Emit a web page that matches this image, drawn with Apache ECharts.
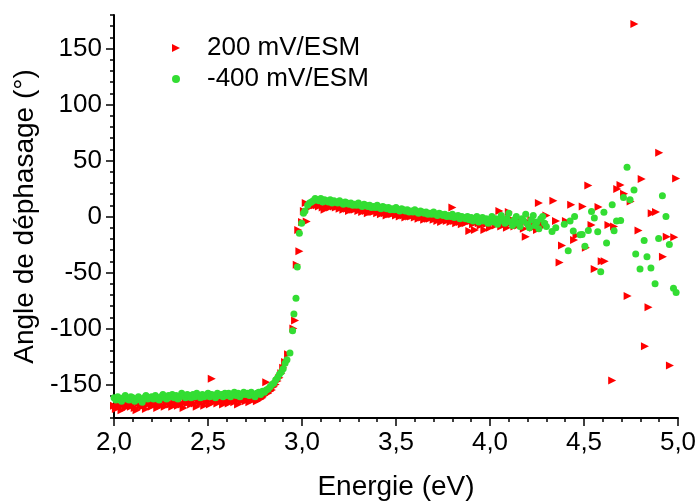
<!DOCTYPE html>
<html>
<head>
<meta charset="utf-8">
<script src="https://cdn.jsdelivr.net/npm/echarts@6/dist/echarts.min.js"></script>
<style>html,body{margin:0;padding:0;background:#fff;}#c{width:697px;height:502px;}</style>
</head>
<body>
<div id="c"></div>
<script>
const seriesNames = ['200 mV/ESM', '-400 mV/ESM'];
const xTickLabels = ['2,0','2,5','3,0','3,5','4,0','4,5','5,0'];
const xTickValues = [2.0,2.5,3.0,3.5,4.0,4.5,5.0];
const yTickValues = [-150,-100,-50,0,50,100,150];

// Dense region 1 (below the gap)
const energyDense1 = [
2.00,2.01,2.02,2.03,2.04,2.05,2.06,2.07,2.08,2.09,
2.10,2.11,2.12,2.13,2.14,2.15,2.16,2.17,2.18,2.19,
2.20,2.21,2.22,2.23,2.24,2.25,2.26,2.27,2.28,2.29,
2.30,2.31,2.32,2.33,2.34,2.35,2.36,2.37,2.38,2.39,
2.40,2.41,2.42,2.43,2.44,2.45,2.46,2.47,2.48,2.49,
2.50,2.51,2.52,2.53,2.54,2.55,2.56,2.57,2.58,2.59,
2.60,2.61,2.62,2.63,2.64,2.65,2.66,2.67,2.68,2.69,
2.70,2.71,2.72,2.73,2.74,2.75,2.76,2.77,2.78,2.79,
2.80,2.81,2.82,2.83,2.84,2.85,2.86,2.87,2.88];
const greenDense1 = [
-162,-164,-161,-163,-165,-162,-160,-163,-164,-161,
-162,-165,-163,-161,-164,-166,-162,-160,-163,-162,
-161,-163,-160,-162,-164,-161,-159,-162,-163,-160,
-161,-159,-162,-160,-163,-161,-158,-160,-162,-159,
-160,-162,-159,-161,-158,-160,-162,-159,-161,-160,
-158,-161,-159,-160,-162,-158,-160,-159,-161,-158,
-160,-158,-161,-159,-157,-160,-158,-161,-159,-157,
-159,-158,-160,-157,-159,-161,-158,-157,-159,-156,
-157,-155,-154,-152,-150,-149,-146,-144,-141];
const redDense1 = [
-169,-172,-168,-170,-173,-167,-171,-169,-166,-170,
-168,-171,-173,-167,-169,-170,-166,-172,-168,-167,
-170,-166,-168,-171,-167,-169,-165,-170,-167,-166,
-168,-170,-165,-167,-169,-166,-168,-171,-165,-167,
-166,-168,-164,-167,-170,-165,-167,-164,-169,-166,
-165,-168,-145,-166,-164,-167,-165,-163,-168,-166,
-164,-167,-165,-163,-166,-164,-168,-163,-165,-162,
-165,-163,-166,-162,-164,-163,-165,-161,-163,-162,
-160,-148,-158,-156,-155,-152,-150,-147,-144];

// Transition around 3 eV
const energyTransRed = [2.89,2.90,2.91,2.926,2.954,2.963,2.972,2.986,2.98,3.00,3.01,3.02,3.025,3.04,3.05,3.06,3.07];
const redTrans = [-140,-135,-130,-123,-100,-93,-43,-31,-12,-5,5,12,-4.5,8,10,11,10];
const energyTransGreen = [2.89,2.90,2.91,2.92,2.936,2.95,2.957,2.968,2.975,2.986,2.998,3.008,3.016,3.03,3.04,3.05,3.06,3.07];
const greenTrans = [-139,-136,-131,-128,-122,-102,-87,-73,-45,-15,-6,3,5,10,12,13,14,16];

// Dense region 2 (plateau)
const energyDense2 = [
3.08,3.09,3.10,3.11,3.12,3.13,3.14,3.15,3.16,3.17,
3.18,3.19,3.20,3.21,3.22,3.23,3.24,3.25,3.26,3.27,
3.28,3.29,3.30,3.31,3.32,3.33,3.34,3.35,3.36,3.37,
3.38,3.39,3.40,3.41,3.42,3.43,3.44,3.45,3.46,3.47,
3.48,3.49,3.50,3.51,3.52,3.53,3.54,3.55,3.56,3.57,
3.58,3.59,3.60,3.61,3.62,3.63,3.64,3.65,3.66,3.67,
3.68,3.69,3.70,3.71,3.72,3.73,3.74,3.75,3.76,3.77,
3.78,3.79,3.80,3.81,3.82,3.83,3.84,3.85,3.86,3.87,
3.88,3.89,3.90,3.91,3.92,3.93,3.94,3.95,3.96,3.97,
3.98,3.99,4.00,4.01,4.02,4.03,4.04,4.05,4.06,4.07,
4.08,4.09,4.10,4.11,4.12,4.13,4.14,4.15,4.16,4.17,
4.18,4.19,4.20,4.21,4.22,4.23,4.24,4.25,4.26,4.27,
4.28,4.29,4.30];
const greenDense2 = [
15,14,16,13,15,14,13,15,12,14,
13,12,14,12,11,13,12,11,12,10,
11,10,12,10,9,11,10,9,10,8,
9,8,10,8,7,9,8,7,8,6,
7,6,8,6,5,7,6,5,6,4,
5,4,6,4,3,5,4,3,4,2,
3,2,4,2,1,3,2,1,2,0,
1,0,2,-1,0,1,-2,0,-1,-2,
0,-3,-1,-4,-2,0,-5,-3,-1,-4,
-2,-6,-3,0,-5,-2,-7,-4,1,-3,
-6,-2,3,-5,-8,-3,0,-6,-9,-2,
-4,2,-7,-10,-3,1,-8,-5,-11,-2,
0,-6,-9];
const redDense2 = [
10,9,11,8,6,10,9,8,10,9,
8,9,7,8,6,8,7,5,7,6,
6,7,5,6,4,6,5,3,5,4,
4,5,3,4,2,4,3,1,3,2,
2,3,1,2,0,2,1,-1,1,0,
0,1,-1,0,-2,0,-1,-3,-1,-2,
-2,-1,-3,-2,-4,-2,-5,-3,-2,-4,
-3,-5,8,-4,-6,-3,-5,-7,-4,-6,
-5,-13,-4,-7,-12,-3,-6,-8,-5,-12,
-7,-4,-10,-6,-3,-8,-5,5,-9,-4,
-7,-10,4,-6,-3,-9,-5,-8,-4,-6,
-11,-18,-5,-8,-3,-10,-7,-12,12,-6,
-9,-5,1];

// Sparse, noisy region
const energySparseRed = [4.337,4.351,4.37,4.383,4.404,4.432,4.447,4.46,4.493,4.51,4.523,4.54,4.557,4.577,4.594,4.61,4.63,4.65,4.66,4.677,4.694,4.713,4.732,4.748,4.768,4.79,4.807,4.824,4.843,4.86,4.883,4.90,4.92,4.94,4.957,4.98,4.99];
const redSparse = [14,-4,-41,-26,-4,10.5,-21,-17,9,-28,27.6,-7.5,-47,8.4,-40,-40,-7.5,-146.6,-9,24.6,28.2,20.4,-71,13.5,172,-12.6,33.6,-116,-81,3,4,57,-36,-18,-133,-18.5,34];
const energySparseGreen = [4.33,4.35,4.395,4.416,4.426,4.443,4.45,4.479,4.49,4.505,4.523,4.54,4.555,4.573,4.589,4.606,4.62,4.65,4.66,4.673,4.695,4.71,4.729,4.745,4.766,4.775,4.798,4.82,4.835,4.856,4.878,4.897,4.917,4.936,4.954,4.976,4.99];
const greenSparse = [-13.5,-10,-7,-30.5,-4,-13,0,-16.4,-16,-26.6,-12.6,4.5,-1.4,-13.7,-49.3,3.9,-23.6,10.5,-12.8,-4,-3.6,17,44,15,23.7,-33.5,-47,-21.5,-36,-46,-60,-19.7,18.6,0,-25,-64,-68];

function pairs(xs, ys){ return xs.map((x,i)=>[x, ys[i]]); }
const redData = [].concat(pairs(energyDense1, redDense1), pairs(energyTransRed, redTrans), pairs(energyDense2, redDense2), pairs(energySparseRed, redSparse));
const greenData = [].concat(pairs(energyDense1, greenDense1), pairs(energyTransGreen, greenTrans), pairs(energyDense2, greenDense2), pairs(energySparseGreen, greenSparse));

const FONT = 'Liberation Sans, Arial, sans-serif';
const chart = echarts.init(document.getElementById('c'), null, {renderer:'canvas'});
const axisLineStyle = {color:'#000', width:2};
chart.setOption({
  animation:false,
  backgroundColor:'#fff',
  grid:{left:114, right:19, top:15, bottom:84, containLabel:false, outerBoundsMode:'none'},
  legend:{
    orient:'vertical', left:167, top:28, itemWidth:8, itemHeight:8, itemGap:1,
    data:seriesNames,
    textStyle:{fontFamily:FONT, fontSize:26, color:'#000', lineHeight:30, padding:[0,0,0,22]}
  },
  xAxis:{
    type:'value', min:2, max:5, interval:0.5,
    name:'Energie (eV)', nameLocation:'middle', nameGap:55,
    nameTextStyle:{fontFamily:FONT, fontSize:28, color:'#000'},
    axisLine:{show:true, onZero:false, lineStyle:axisLineStyle},
    axisTick:{show:true, inside:false, length:8, lineStyle:{color:'#000', width:1.5}},
    minorTick:{show:true, splitNumber:5, length:4, lineStyle:{color:'#000', width:1.5}},
    splitLine:{show:false}, minorSplitLine:{show:false},
    axisLabel:{fontFamily:FONT, fontSize:26, color:'#000', margin:12,
      formatter:(v)=>{const i=xTickValues.findIndex(t=>Math.abs(t-v)<1e-6); return i>=0?xTickLabels[i]:'';}}
  },
  yAxis:[{
    type:'value', min:-180, max:180, interval:10,
    name:'Angle de déphasage (°)', nameLocation:'middle', nameGap:73,
    nameTextStyle:{fontFamily:FONT, fontSize:28, color:'#000'},
    axisLine:{show:true, onZero:false, lineStyle:axisLineStyle},
    axisTick:{show:true, inside:false, length:4, lineStyle:{color:'#000', width:1.5}},
    splitLine:{show:false},
    axisLabel:{fontFamily:FONT, fontSize:26, color:'#000', margin:12, customValues:yTickValues,
      formatter:(v)=>String(v)}
  },{
    type:'value', min:-180, max:180, interval:10, position:'left',
    axisLine:{show:false},
    axisTick:{show:true, inside:false, length:8, customValues:yTickValues, lineStyle:{color:'#000', width:1.5}},
    splitLine:{show:false},
    axisLabel:{show:false}
  }],
  series:[
    {name:seriesNames[0], type:'scatter', yAxisIndex:0, data:redData,
     symbol:'path://M0,0L10,5L0,10Z', symbolSize:8, itemStyle:{color:'#ff0000', opacity:1}},
    {name:seriesNames[1], type:'scatter', yAxisIndex:0, data:greenData,
     symbol:'circle', symbolSize:7, itemStyle:{color:'#33dd33', opacity:1}}
  ]
});
</script>
</body>
</html>
